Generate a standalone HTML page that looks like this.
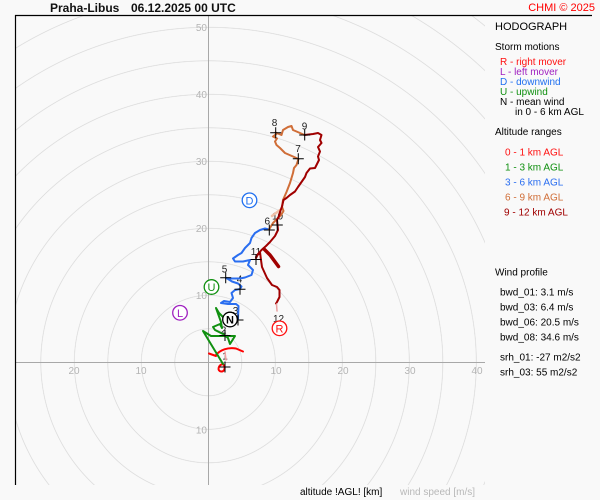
<!DOCTYPE html>
<html>
<head>
<meta charset="utf-8">
<style>
html,body{margin:0;padding:0;background:#f9f9f9;width:600px;height:500px;overflow:hidden;position:relative;}
#rings{position:absolute;left:15px;top:15px;width:470px;height:470px;
background:repeating-radial-gradient(circle at 193.3px 347.3px, #d8d8d8 0px, rgba(220,220,220,0) 0.7px, rgba(220,220,220,0) 32.8px, #d8d8d8 33.5px);}
svg{display:block;position:absolute;left:0;top:0;}
text{font-family:"Liberation Sans",Arial,sans-serif;}
</style>
</head>
<body>
<div id="rings"></div>
<svg width="600" height="500" viewBox="0 0 600 500" xmlns="http://www.w3.org/2000/svg">
<g stroke="#a8a8a8" stroke-width="1">
<line x1="15" y1="362.5" x2="485" y2="362.5"/>
<line x1="208.5" y1="15" x2="208.5" y2="485"/>
</g>
<g stroke="#000" stroke-width="1.2">
<line x1="15.5" y1="15" x2="15.5" y2="485"/>
<line x1="15" y1="15.5" x2="592" y2="15.5"/>
</g>
<g font-size="10" fill="#b4b4b4" text-anchor="middle">
<text x="74" y="374">20</text>
<text x="141" y="374">10</text>
<text x="276" y="374">10</text>
<text x="343" y="374">20</text>
<text x="410" y="374">30</text>
<text x="477" y="374">40</text>
</g>
<g font-size="10" fill="#b4b4b4" text-anchor="end">
<text x="207" y="31">50</text>
<text x="207" y="98">40</text>
<text x="207" y="165">30</text>
<text x="207" y="232">20</text>
<text x="207" y="299">10</text>
<text x="207" y="433.5">10</text>
</g>

<g font-size="10" fill="#222" text-anchor="middle">
<text x="225" y="359.5">1</text>
<text x="223.5" y="333.5">2</text>
<text x="235.5" y="314">3</text>
<text x="239.5" y="282.5">4</text>
<text x="224.5" y="272.5">5</text>
<text x="267.3" y="224.5">6</text>
<text x="298" y="152">7</text>
<text x="274.5" y="126">8</text>
<text x="304.5" y="129.5">9</text>
<text x="277.5" y="219.5">10</text>
<text x="256" y="255">11</text>
<text x="278.5" y="322">12</text>
</g>

<g fill="none" stroke-width="2" stroke-linejoin="round" stroke-linecap="round">
<path stroke="#ff0000" d="M209,353.5 L216,356 M216,355 C220,350 228,347 236,348.5 L243,351.5 M223,364 C218,365 217,371 221,371.5 C225,372 226,366 222.5,364"/>
<path stroke="#f4a0a0" stroke-width="1.5" d="M225,352 L226,360"/>
<path stroke="#109010" d="M223,364 L203,331 L211,336 L235,336 L230,344 L228,338 L223,334 L215,330 L213,327 L220,324 L222,328 L221,322 L216,308 L219,313 L223,317 L232,318 L237,320"/>
<path stroke="#2a6ef0" d="M238,319 L238.5,306 L236,304 L228,304 L221,303 L224,301 L230,302 L233,298 L231.5,293 L235,290 L240,289 L241.5,286.5 L238,283.5 L232,281.5 L228,279 L226,278 L232,278.5 L240,278.5 L245,277.5 L251.5,275 L253,270 L248,265 L250,260 L243,261.5 L235,261.5 L233,258.5 L238,255 L241.5,253 L245,248 L250,243 L251.5,238 L255,233 L260,230 L265,228.5 L269,229.5"/>
<path stroke="#f0c0a8" stroke-width="2.5" d="M272,216 L280,210"/>
<path stroke="#d06e38" d="M269,229.5 L273,223 L277,219 L281,215 L283.5,211 L282,207 L283,200 L286.5,192 L290,183 L293,173 L294,168 L296.5,165 L298.5,159 L293,156.5 L285,153 L280,148 L276.5,145 L275,141.5 L277,138.5 L273,136.5 L277,133.5 L275.5,132.5 L281.5,135 L283,130 L288,127 L291.5,126 L293,130 L300,133 L304.5,135"/>
<path stroke="#a00000" d="M304.5,135 L313,134 L318,133 L321.5,135 L320,140 L321.5,143 L318,147 L320,151.5 L318,156.5 L319,160 L316.5,165 L315,168 L310,168.5 L306.5,173 L305,177 L301.5,182 L298,187 L295,191.5 L290,195 L286.5,198 L283.5,200 L282,206.5 L280,212 L279,216 L277,220 L277.5,225 L278,230 L275,236 L270,242 L266,246 L261.5,250 L258,254 L256,258 M256,257 L260,252 L261,260 L262,267 L267,278 L272,285 L277,287 L279.5,290 L279.5,297 L277,302 L276,303.5"/>
<path stroke="#a00000" stroke-width="3.5" d="M264,249 L270,255 L278.5,266.5"/>
<path stroke="#e8a0a0" stroke-width="1.5" d="M276.5,304 L277,311"/>
</g>

<g stroke="#000" stroke-width="1">
<path d="M219.5,367 h11 M225,361.5 v11"/>
<path d="M219.5,335.5 h11 M225,330 v11"/>
<path d="M232.5,320 h11 M238,314.5 v11"/>
<path d="M234.5,289.3 h11 M240,283.8 v11"/>
<path d="M220.2,277.7 h11 M225.7,272.2 v11"/>
<path d="M263.8,230 h11 M269.3,224.5 v11"/>
<path d="M292.8,158.7 h11 M298.3,153.2 v11"/>
<path d="M270.2,132.7 h11 M275.7,127.2 v11"/>
<path d="M299.2,135 h11 M304.7,129.5 v11"/>
<path d="M271.8,225 h11 M277.3,219.5 v11"/>
<path d="M250.5,259.5 h11 M256,254 v11"/>
</g>

<g stroke-width="1.3" fill="#ffffff" font-size="11" text-anchor="middle">
<circle cx="279.5" cy="328.3" r="7.3" stroke="#ff1010"/>
<text x="279.5" y="332.3" fill="#ff1010" stroke="none">R</text>
<circle cx="180" cy="312.8" r="7.3" stroke="#a020c0"/>
<text x="180" y="316.8" fill="#a020c0" stroke="none">L</text>
<circle cx="249.5" cy="200.3" r="7.3" stroke="#2070f0"/>
<text x="249.5" y="204.3" fill="#2070f0" stroke="none">D</text>
<circle cx="211.5" cy="287" r="7.3" stroke="#109010"/>
<text x="211.5" y="291" fill="#109010" stroke="none">U</text>
<circle cx="230" cy="319.5" r="7.3" stroke="#000"/>
<text x="230" y="323.5" fill="#000" stroke="none" font-weight="bold">N</text>
</g>

<text x="50" y="12" font-size="12" font-weight="bold" fill="#111">Praha-Libus</text>
<text x="131" y="12" font-size="12" font-weight="bold" fill="#111">06.12.2025 00 UTC</text>
<text x="595" y="11" font-size="11" fill="#ff0000" text-anchor="end">CHMI © 2025</text>

<text x="495" y="30" font-size="11" fill="#000">HODOGRAPH</text>
<g font-size="10">
<text x="495" y="50" fill="#000">Storm motions</text>
<text x="500" y="65" fill="#ff1010">R - right mover</text>
<text x="500" y="75" fill="#a020c0">L - left mover</text>
<text x="500" y="85" fill="#2070f0">D - downwind</text>
<text x="500" y="95" fill="#109010">U - upwind</text>
<text x="500" y="105" fill="#000">N - mean wind</text>
<text x="515" y="115" fill="#000">in 0 - 6 km AGL</text>
<text x="495" y="135" fill="#000">Altitude ranges</text>
<text x="505" y="155.5" fill="#ff1010">0 - 1 km AGL</text>
<text x="505" y="170.5" fill="#109010">1 - 3 km AGL</text>
<text x="505" y="185.5" fill="#2a6ef0">3 - 6 km AGL</text>
<text x="505" y="200.5" fill="#d06e38">6 - 9 km AGL</text>
<text x="504" y="215.5" fill="#a00000">9 - 12 km AGL</text>
<text x="495" y="275.5" fill="#000">Wind profile</text>
<text x="500" y="295.5" fill="#000">bwd_01: 3.1 m/s</text>
<text x="500" y="310.5" fill="#000">bwd_03: 6.4 m/s</text>
<text x="500" y="325.5" fill="#000">bwd_06: 20.5 m/s</text>
<text x="500" y="340.5" fill="#000">bwd_08: 34.6 m/s</text>
<text x="500" y="360.5" fill="#000">srh_01: -27 m2/s2</text>
<text x="500" y="375.5" fill="#000">srh_03: 55 m2/s2</text>
<text x="300" y="495" fill="#000">altitude !AGL! [km]</text>
<text x="400" y="495" fill="#b8b8b8">wind speed [m/s]</text>
</g>
</svg>
</body>
</html>
